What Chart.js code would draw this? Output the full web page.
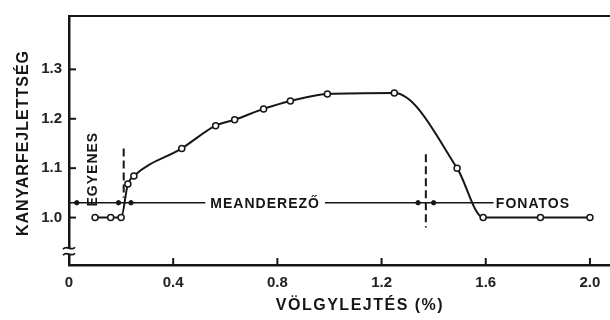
<!DOCTYPE html>
<html>
<head>
<meta charset="utf-8">
<script src="https://cdn.jsdelivr.net/npm/chart.js@4/dist/chart.umd.min.js"></script>
<style>
  html, body { margin: 0; padding: 0; background: #fff; }
  #wrap { width: 610px; height: 320px; }
</style>
</head>
<body>
<div id="wrap"><canvas id="sinChart"></canvas></div>
<script>
// valley slope (%) vs. sinuosity, measured points
var slope = [0.10, 0.16, 0.20, 0.226, 0.249, 0.433, 0.563, 0.636, 0.747, 0.85, 0.992, 1.249, 1.49, 1.59, 1.81, 2.0];
var sinuosity = [1.0, 1.0, 1.0, 1.068, 1.084, 1.14, 1.186, 1.198, 1.22, 1.236, 1.25, 1.252, 1.10, 1.0, 1.0, 1.0];

// channel-type ranges: the guide line, its arrow dots and the dashed limits
var rangeLevel = 1.03;
var rangeLine = [0, 1.63];
var rangeArrows = [0.03, 0.19, 0.238, 1.34, 1.40];
var limitX = [0.21, 1.37];
var limitTop = [1.14, 1.128];
var limitBottom = [1.04, 0.98];

var xTicks = [0, 0.4, 0.8, 1.2, 1.6, 2.0];
var yTicks = [1.0, 1.1, 1.2, 1.3];

var ink = '#161616';
var font = '"Liberation Sans", Arial, sans-serif';

function pts(xs, ys) {
    return xs.map(function(x, i) { return { x: x, y: Array.isArray(ys) ? ys[i] : ys }; });
}

var datasets = [
    {
        data: pts(slope, sinuosity),
        showLine: true,
        cubicInterpolationMode: 'monotone',
        borderColor: ink,
        borderWidth: 2,
        pointRadius: 3,
        pointBackgroundColor: '#fff',
        pointBorderColor: ink,
        pointBorderWidth: 1.5
    },
    {
        data: pts(rangeArrows, rangeLevel),
        showLine: false,
        pointRadius: 2.2,
        pointBackgroundColor: ink,
        pointBorderColor: ink
    },
    {
        data: pts(rangeLine, rangeLevel),
        showLine: true,
        borderColor: ink,
        borderWidth: 1.5,
        pointRadius: 0
    }
];
limitX.forEach(function(x, i) {
    datasets.push({
        data: [{ x: x, y: limitTop[i] }, { x: x, y: limitBottom[i] }],
        showLine: true,
        borderColor: ink,
        borderWidth: 2,
        borderDash: [8, 4],
        pointRadius: 0
    });
});

// labels, axis titles, inward tick marks, frame and axis break
var decor = {
    id: 'decor',
    afterDatasetsDraw: function(chart) {
        var ctx = chart.ctx, a = chart.chartArea;
        var xs = chart.scales.x, ys = chart.scales.y;
        ctx.save();
        ctx.strokeStyle = ink;
        ctx.fillStyle = ink;

        // top frame line
        ctx.lineWidth = 2;
        ctx.beginPath();
        ctx.moveTo(a.left, a.top);
        ctx.lineTo(a.right, a.top);
        ctx.stroke();

        // tick marks pointing into the plot
        ctx.lineWidth = 2;
        yTicks.forEach(function(v) {
            var py = ys.getPixelForValue(v);
            ctx.beginPath();
            ctx.moveTo(a.left, py);
            ctx.lineTo(a.left + 7, py);
            ctx.stroke();
        });
        xTicks.forEach(function(v) {
            if (v === 0) return;
            var px = xs.getPixelForValue(v);
            ctx.beginPath();
            ctx.moveTo(px, a.bottom);
            ctx.lineTo(px, a.bottom - 7);
            ctx.stroke();
        });

        // axis break
        var by = ys.getPixelForValue(0.932);
        ctx.fillStyle = '#fff';
        ctx.fillRect(a.left - 3, by - 3, 6, 6);
        ctx.lineWidth = 1.7;
        [-3, 3].forEach(function(d) {
            ctx.beginPath();
            ctx.moveTo(a.left - 6, by + d + 1);
            ctx.bezierCurveTo(a.left - 2, by + d - 4, a.left + 2, by + d + 4, a.left + 6, by + d - 1);
            ctx.stroke();
        });

        // range labels
        ctx.fillStyle = ink;
        ctx.font = 'bold 14px ' + font;
        ctx.textBaseline = 'middle';
        ctx.letterSpacing = '1px';
        var ly = ys.getPixelForValue(rangeLevel);

        var mx = xs.getPixelForValue(0.753);
        var mw = ctx.measureText('MEANDEREZŐ').width;
        ctx.fillStyle = '#fff';
        ctx.fillRect(mx - mw / 2 - 5, ly - 7, mw + 10, 14);
        ctx.fillStyle = ink;
        ctx.textAlign = 'center';
        ctx.fillText('MEANDEREZŐ', mx, ly + 1);

        var fx = xs.getPixelForValue(1.635);
        var fw = ctx.measureText('FONATOS').width;
        ctx.fillStyle = '#fff';
        ctx.fillRect(fx, ly - 7, fw + 2, 14);
        ctx.fillStyle = ink;
        ctx.textAlign = 'left';
        ctx.fillText('FONATOS', fx + 1, ly + 1);

        ctx.save();
        ctx.translate(xs.getPixelForValue(0.092), ys.getPixelForValue(1.098));
        ctx.rotate(-Math.PI / 2);
        ctx.textAlign = 'center';
        ctx.fillText('EGYENES', 0, 0);
        ctx.restore();

        // axis titles
        ctx.font = 'bold 16px ' + font;
        ctx.letterSpacing = '1.5px';
        ctx.textAlign = 'center';
        ctx.fillText('VÖLGYLEJTÉS (%)', 360, 306);
        ctx.letterSpacing = '1px';
        ctx.save();
        ctx.translate(24, 143);
        ctx.rotate(-Math.PI / 2);
        ctx.fillText('KANYARFEJLETTSÉG', 0, 0);
        ctx.restore();

        ctx.restore();
    }
};

window.onload = function() {
    var ctx = document.getElementById('sinChart').getContext('2d');
    var chart = new Chart(ctx, {
        type: 'scatter',
        data: { datasets: datasets },
        options: {
            responsive: true,
            maintainAspectRatio: false,
            animation: false,
            layout: { autoPadding: false, padding: { top: 13, right: 0, left: 0, bottom: 0 } },
            plugins: { legend: { display: false }, tooltip: { enabled: false } },
            scales: {
                x: {
                    type: 'linear',
                    min: 0,
                    max: 2.077,
                    afterBuildTicks: function(s) { s.ticks = xTicks.map(function(v) { return { value: v }; }); },
                    afterFit: function(s) { s.height = 55; },
                    grid: { display: true, drawOnChartArea: false, drawTicks: false },
                    border: { display: true, color: ink, width: 2.5 },
                    ticks: {
                        padding: 9,
                        maxRotation: 0,
                        color: '#222',
                        font: { family: font, size: 15, weight: 'bold' },
                        callback: function(v) { return v === 0 ? '0' : v.toFixed(1); }
                    }
                },
                y: {
                    type: 'linear',
                    min: 0.904,
                    max: 1.408,
                    afterBuildTicks: function(s) { s.ticks = yTicks.map(function(v) { return { value: v }; }); },
                    afterFit: function(s) { s.width = 69; },
                    grid: { display: true, drawOnChartArea: false, drawTicks: false },
                    border: { display: true, color: ink, width: 2.5 },
                    ticks: {
                        padding: 7,
                        color: '#222',
                        font: { family: font, size: 15, weight: 'bold' },
                        callback: function(v) { return v.toFixed(1); }
                    }
                }
            }
        },
        plugins: [decor]
    });
};
</script>
</body>
</html>
